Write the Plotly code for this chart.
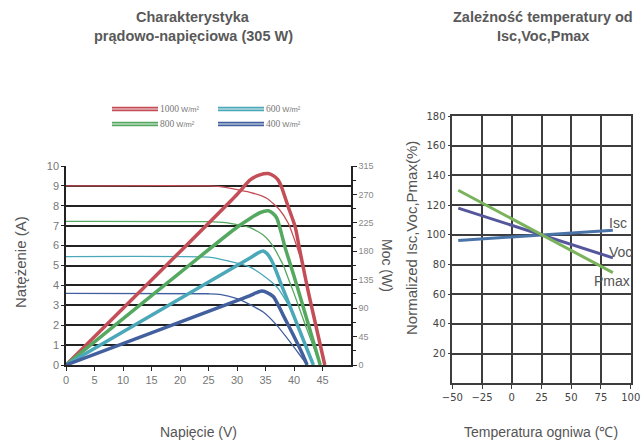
import plotly.graph_objects as go

# ---------------- Left chart data (I-V and P-V curves) ----------------
irradiance_labels = ["1000", "800", "600", "400"]

v_iv_1000 = [0, 25, 28, 30.5, 32.3, 35.2, 37.5, 39.0, 39.9, 40.8, 41.4, 42.5, 43.5, 44.5, 45.4]
i_iv_1000 = [9.0, 9.0, 8.93, 8.78, 8.68, 8.38, 7.79, 7.12, 6.45, 5.69, 5.12, 3.7, 2.42, 1.15, 0]

v_iv_800 = [0, 25, 28, 30, 32.3, 34.6, 36.4, 37.5, 38.1, 39.0, 40.0, 42.0, 43.5, 44.6]
i_iv_800 = [7.22, 7.2, 7.15, 7.05, 6.9, 6.53, 5.94, 5.36, 5.03, 4.35, 3.6, 2.0, 0.85, 0]

v_iv_600 = [0, 25, 27, 30, 32.3, 34.6, 37.0, 38.7, 40.5, 41.9, 43.4]
i_iv_600 = [5.45, 5.42, 5.32, 5.12, 4.92, 4.5, 3.92, 3.17, 2.16, 1.16, 0]

v_iv_400 = [0, 25, 27, 30, 32.3, 34.6, 37.0, 39.3, 41.05, 42.3]
i_iv_400 = [3.6, 3.58, 3.55, 3.33, 3.03, 2.66, 1.99, 1.16, 0.49, 0]

v_p_1000 = [0, 30, 32.3, 34, 35.5, 36.5, 37.2, 37.8, 39.0, 40.2, 40.9, 41.5, 42.5, 43.5, 44.5, 45.4]
p_1000 = [0, 270, 293, 301, 303, 299, 293, 282, 250, 219, 187, 160, 116, 76, 36, 0]

v_p_800 = [0, 30, 32.3, 34, 35.5, 36.3, 37.0, 37.8, 38.4, 39.3, 40.5, 42.0, 43.5, 44.6]
p_800 = [0, 218, 232, 241, 244, 240, 232, 208, 187, 161, 126, 80, 34, 0]

v_p_600 = [0, 30, 32.3, 33.8, 34.6, 35.3, 36.2, 38.0, 40.0, 42.0, 43.4]
p_600 = [0, 157.5, 169.5, 178, 180.5, 176, 163, 122, 77, 31.5, 0]

v_p_400 = [0, 30, 32.3, 33.3, 34.3, 35.2, 36.4, 38.1, 39.9, 41.6, 42.3]
p_400 = [0, 102, 110, 114, 117, 115, 108, 79, 47, 15, 0]

voltage_ticks = [0, 5, 10, 15, 20, 25, 30, 35, 40, 45]
current_ticks = [0, 1, 2, 3, 4, 5, 6, 7, 8, 9, 10]
power_ticks = [0, 45, 90, 135, 180, 225, 270, 315]

# ---------------- Right chart data (temperature dependence) ----------------
temps = [-45, 25, 85]
isc_pct = [96.2, 100, 103]
voc_pct = [118, 100, 84.5]
pmax_pct = [130, 100, 74.5]
temp_ticks = [-50, -25, 0, 25, 50, 75, 100]
pct_ticks = [20, 40, 60, 80, 100, 120, 140, 160, 180]

RED = "#c44e57"
GREEN = "#55a860"
CYAN = "#4aa8b8"
BLUE = "#42609e"

W, H = 644, 444
fig = go.Figure()

iv_sets = [(v_iv_1000, i_iv_1000, RED), (v_iv_800, i_iv_800, GREEN),
           (v_iv_600, i_iv_600, CYAN), (v_iv_400, i_iv_400, BLUE)]
p_sets = [(v_p_1000, p_1000, RED), (v_p_800, p_800, GREEN),
          (v_p_600, p_600, CYAN), (v_p_400, p_400, BLUE)]

for v, i, c in iv_sets:
    fig.add_trace(go.Scatter(x=v, y=i, mode="lines", xaxis="x", yaxis="y",
                             line=dict(color=c, width=1.3, shape="spline", smoothing=0.6),
                             showlegend=False, hoverinfo="skip"))
for v, p, c in p_sets:
    fig.add_trace(go.Scatter(x=v, y=p, mode="lines", xaxis="x", yaxis="y2",
                             line=dict(color=c, width=3.5, shape="spline", smoothing=0.6),
                             showlegend=False, hoverinfo="skip"))

fig.add_trace(go.Scatter(x=temps, y=isc_pct, mode="lines", xaxis="x3", yaxis="y3",
                         line=dict(color="#4a74a8", width=3), showlegend=False))
fig.add_trace(go.Scatter(x=temps, y=voc_pct, mode="lines", xaxis="x3", yaxis="y3",
                         line=dict(color="#56569c", width=3), showlegend=False))
fig.add_trace(go.Scatter(x=temps, y=pmax_pct, mode="lines", xaxis="x3", yaxis="y3",
                         line=dict(color="#7ab35c", width=3), showlegend=False))

def px_x(p):
    return p / W

def px_y(p):
    return 1 - p / H

GRID = "#222222"
GRID2 = "#3d3d3d"

fig.update_layout(
    width=W, height=H,
    margin=dict(l=0, r=0, t=0, b=0, autoexpand=False),
    paper_bgcolor="white", plot_bgcolor="white",
    font=dict(family="Liberation Sans, Arial, sans-serif", color="#666"),
    xaxis=dict(domain=[px_x(66), px_x(351)], range=[0, 50], tickvals=voltage_ticks,
               showgrid=False, zeroline=False, showline=True, linecolor=GRID, linewidth=1.5,
               ticks="outside", ticklen=4, tickcolor=GRID, tickwidth=1, automargin=False,
               tickfont=dict(size=11, color="#777"), anchor="y"),
    yaxis=dict(domain=[px_y(365), px_y(166)], range=[0, 10], tickvals=current_ticks,
               showgrid=True, gridcolor=GRID, gridwidth=1.6, zeroline=False,
               showline=True, linecolor=GRID, linewidth=1.5, automargin=False,
               ticks="outside", ticklen=3, tickcolor=GRID,
               tickfont=dict(size=11, color="#777"), anchor="x"),
    yaxis2=dict(overlaying="y", side="right", anchor="x", range=[0, 315], tickvals=power_ticks,
                showgrid=False, zeroline=False, showline=True, linecolor=GRID, linewidth=1.5,
                ticks="outside", ticklen=4, tickcolor=GRID, automargin=False,
                minor=dict(dtick=22.5, tick0=0, ticks="outside", ticklen=3, tickcolor=GRID, showgrid=False),
                tickfont=dict(size=9, color="#888")),
    xaxis3=dict(domain=[px_x(452.3), px_x(630.7)], range=[-50, 100], tickvals=temp_ticks,
                showgrid=True, gridcolor=GRID2, gridwidth=1.5, zeroline=False,
                showline=True, linecolor=GRID2, linewidth=1.5, mirror=True, automargin=False,
                ticks="outside", ticklen=4, tickcolor=GRID2,
                tickfont=dict(family="DejaVu Sans", size=10, color="#444"), anchor="y3"),
    yaxis3=dict(domain=[px_y(383.3), px_y(116)], range=[0, 180], tickvals=pct_ticks,
                showgrid=True, gridcolor=GRID2, gridwidth=1.5, zeroline=False,
                showline=True, linecolor=GRID2, linewidth=1.5, mirror=True, automargin=False,
                ticks="outside", ticklen=3, tickcolor=GRID2,
                tickfont=dict(family="DejaVu Sans", size=10, color="#444"), anchor="x3"),
)

ann = []
TITLE_FONT = dict(family="Liberation Sans, Arial, sans-serif", size=14.5, color="#595959")
def add_text(text, x, y, size=14, color="#555", angle=0, font=None, xanchor="center", xref="paper", yref="paper"):
    f = font if font else dict(family="Liberation Sans, Arial, sans-serif", size=size, color=color)
    ann.append(dict(text=text, x=x, y=y, xref=xref, yref=yref, showarrow=False,
                    xanchor=xanchor, yanchor="middle", textangle=angle, font=f))

add_text("<b>Charakterystyka</b>", px_x(193), px_y(17), font=TITLE_FONT)
add_text("<b>prądowo-napięciowa (305 W)</b>", px_x(193), px_y(36), font=TITLE_FONT)
add_text("<b>Zależność temperatury od</b>", px_x(543), px_y(17), font=TITLE_FONT)
add_text("<b>Isc,Voc,Pmax</b>", px_x(543), px_y(36), font=TITLE_FONT)

add_text("Napięcie (V)", px_x(198), px_y(432), size=14)
add_text("Natężenie (A)", px_x(20), px_y(262), size=15, angle=-90)
add_text("Moc (W)", px_x(387), px_y(265), size=14, angle=90)
add_text("Normalized Isc,Voc,Pmax(%)", px_x(412), px_y(238), size=15, angle=-90)
add_text("Temperatura ogniwa (℃)", px_x(541), px_y(432), size=14)

# right chart curve labels
add_text("Isc", 89.5, 107.8, size=14, color="#555", xref="x3", yref="y3")
add_text("Voc", 91.5, 88.3, size=14, color="#555", xref="x3", yref="y3")
add_text("Pmax", 84.4, 68.9, size=14, color="#555", xref="x3", yref="y3")

# legend (decorative glyphs)
shapes = []
legend_items = [("1000", RED, 112, 109), ("600", CYAN, 218, 109),
                ("800", GREEN, 112, 124), ("400", BLUE, 218, 124)]
for lab, col, x0, yc in legend_items:
    shapes.append(dict(type="line", xref="paper", yref="paper", x0=px_x(x0), x1=px_x(x0 + 46),
                       y0=px_y(yc), y1=px_y(yc), line=dict(color=col, width=4.5)))
    shapes.append(dict(type="line", xref="paper", yref="paper", x0=px_x(x0), x1=px_x(x0 + 46),
                       y0=px_y(yc), y1=px_y(yc), line=dict(color="rgba(255,255,255,0.85)", width=1.2)))
    ann.append(dict(text="<span style='font-family:Liberation Serif'>" + lab + "</span>"
                         "<span style='font-size:7.5px'> W/m²</span>",
                    x=px_x(x0 + 46), y=px_y(yc), xref="paper", yref="paper", showarrow=False,
                    xanchor="left", yanchor="middle",
                    font=dict(family="Liberation Sans, Arial, sans-serif", size=9.5, color="#777")))

fig.update_layout(annotations=ann, shapes=shapes)
fig.write_html("out.html", config={"displayModeBar": False},
               post_script="document.body.style.margin='0px';")
